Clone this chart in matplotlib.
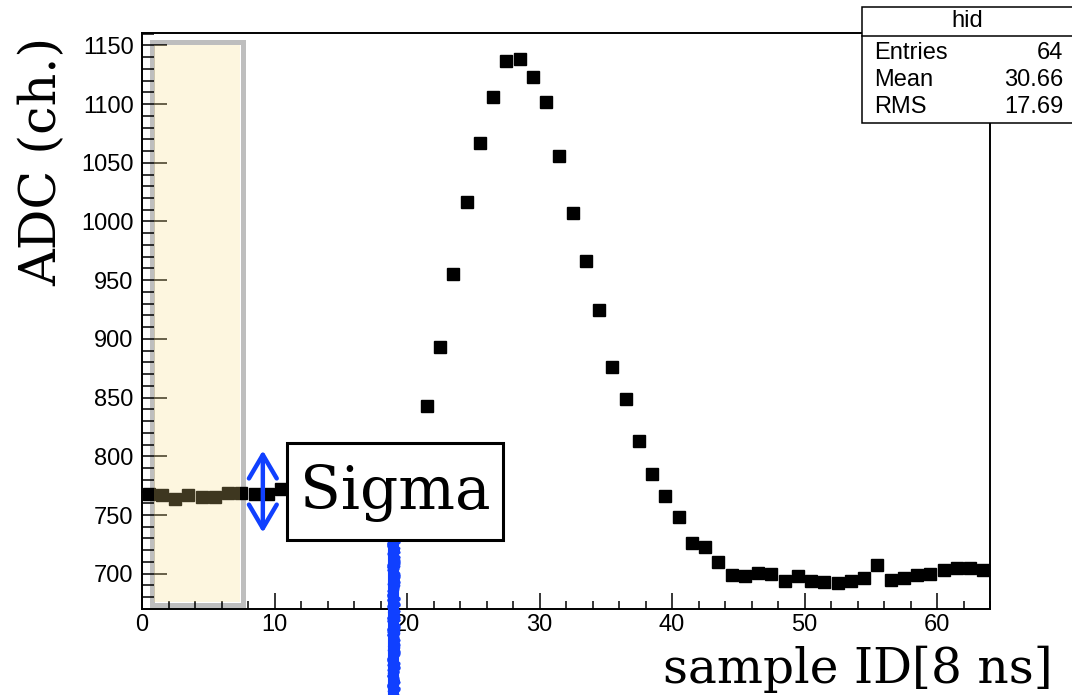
import numpy as np
import matplotlib.pyplot as plt
from matplotlib.patches import Rectangle

# ADC samples of one waveform, one value per 8 ns sample
sample_id = np.arange(64) + 0.5
adc = [768, 767, 764, 767, 765, 765, 769, 769, 768, 768,
       772, 770, 769, 770, 768, 769, 771, 770, 772, 785,
       805, 843, 893, 955, 1017, 1067, 1106, 1137, 1138, 1123,
       1102, 1056, 1007, 966, 925, 876, 849, 813, 785, 766,
       748, 726, 723, 710, 699, 698, 701, 700, 694, 698,
       694, 693, 692, 694, 696, 707, 695, 696, 699, 700,
       703, 705, 705, 703]

stats_title = "hid"
stats_names = ["Entries", "Mean", "RMS"]
stats_values = ["64", "30.66", "17.69"]

pedestal_range = (0.72, 7.62)      # samples used for the baseline
pedestal_adc = (673.5, 1152.5)
sigma_span = (735, 805)

W, H = 1072, 695
fig = plt.figure(figsize=(W / 100, H / 100), dpi=100)
ax = fig.add_axes([142 / W, 1 - 608.7 / H, 848 / W, 576 / H])

serif = "DejaVu Serif"
sans = "Liberation Sans"

ax.plot(sample_id, adc, ls="none", marker="s", ms=8.6, color="black",
        mec="black", zorder=2)

# pedestal window: grey frame under the points, pale yellow wash over them
x0, x1 = pedestal_range
y0, y1 = pedestal_adc
ax.add_patch(Rectangle((x0, y0), x1 - x0, y1 - y0, fill=False,
                       ec="#bebebe", lw=3.6, zorder=1))
dx, dy = 0.2, 2.2
ax.add_patch(Rectangle((x0 + dx, y0 + dy), x1 - x0 - 2 * dx,
                       y1 - y0 - 2 * dy, fc="#f8dc82",
                       alpha=0.25, ec="none", zorder=3))

# scribbled marker line
blue = "#1040ff"
ax.plot([18.97, 18.97], [760, 590], color=blue, lw=8,
        solid_capstyle="butt", clip_on=False, zorder=4)
for off, lw in [(-0.28, 2.5), (0.28, 2.5), (-0.15, 3), (0.15, 3)]:
    edge, = ax.plot([18.97 + off] * 2, [760, 590], color=blue, lw=lw,
                    clip_on=False, zorder=4)
    edge.set_sketch_params(scale=1.5, length=2, randomness=40)

ax.annotate("", xy=(9.12, sigma_span[0]), xytext=(9.12, sigma_span[1]),
            arrowprops=dict(arrowstyle="<->,head_length=1.7,head_width=1.0",
                            color=blue, lw=3.2, shrinkA=0, shrinkB=0),
            zorder=6)

ax.add_patch(Rectangle((10.93, 728.6), 16.3, 82.4, fc="white", ec="black",
                       lw=2.2, zorder=5))
ax.text(19.1, 769, "Sigma", family=serif, fontsize=43, ha="center",
        va="center", zorder=6)

ax.set_xlim(0, 64)
ax.set_ylim(670.2, 1160.8)
ax.set_xticks(range(0, 61, 10))
ax.set_xticks(np.arange(0, 65, 2), minor=True)
ax.set_yticks(range(700, 1151, 50))
ax.set_yticks(range(680, 1161, 10), minor=True)
for s in ax.spines.values():
    s.set_linewidth(1.4)
ax.tick_params(direction="in", top=False, right=False, width=1.1,
               labelsize=17, labelfontfamily=sans)
ax.tick_params(which="minor", direction="in", top=False, right=False,
               width=1.1)
ax.tick_params(axis="x", which="major", length=11.5, pad=4)
ax.tick_params(axis="x", which="minor", length=5.8)
ax.tick_params(axis="y", which="major", length=18, pad=6)
ax.tick_params(axis="y", which="minor", length=8.6)

fig.text(43 / W, 1 - 161.5 / H, "ADC (ch.)", family=serif, fontsize=36.5,
         rotation=90, ha="center", va="center")
fig.text(1053 / W, 1 - 683 / H, "sample ID[8 ns]", family=serif,
         fontsize=35, ha="right", va="baseline")

# statistics box in the top right corner
bx0, by0, by1 = 862 / W, 1 - 123 / H, 1 - 7 / H
fig.patches.append(Rectangle((bx0, by0), 1.1 - bx0, by1 - by0, fc="white",
                             ec="black", lw=1.1, transform=fig.transFigure,
                             figure=fig, zorder=10))
fig.add_artist(plt.Line2D([bx0, 1.1], [1 - 36 / H] * 2, color="black",
                          lw=1.1, transform=fig.transFigure, zorder=11))
fig.text(967 / W, 1 - 21 / H, stats_title, family=sans, fontsize=17,
         ha="center", va="center", zorder=12)
for i, (name, val) in enumerate(zip(stats_names, stats_values)):
    yy = 1 - (53 + 27 * i) / H
    fig.text(874 / W, yy, name, family=sans, fontsize=17, ha="left",
             va="center", zorder=12)
    fig.text(1063 / W, yy, val, family=sans, fontsize=17, ha="right",
             va="center", zorder=12)

fig.savefig("out.png", dpi=100)
